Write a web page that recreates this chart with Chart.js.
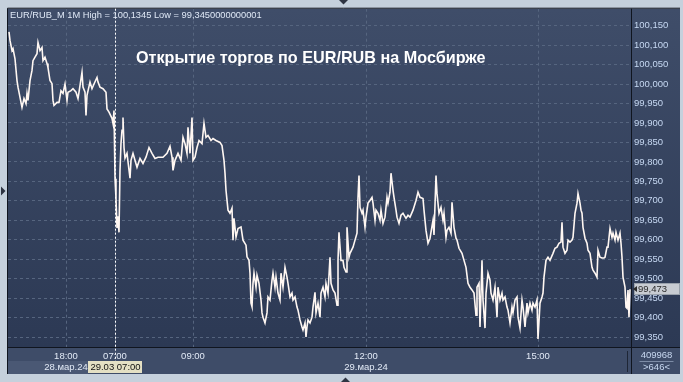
<!DOCTYPE html>
<html><head><meta charset="utf-8">
<style>html,body{margin:0;padding:0;background:#c5d0dc;}canvas{display:block}</style>
<script src="https://cdn.jsdelivr.net/npm/chart.js@4.4.1/dist/chart.umd.min.js"></script>
</head><body>
<canvas id="c" width="683" height="382"></canvas>
<script>
// ---- data (bar number in the visible window, close price) ----
const barIndex = [1,2,4,5,7,9,10,13,14,16,18,19,20,22,24,25,27,29,30,32,34,35,37,39,40,42,44,45,46,49,51,53,55,57,59,60,63,65,68,70,71,74,75,77,78,79,82,84,86,89,90,92,95,98,99,101,104,105,106,
107,108,109,110,111,112,113,114,115,116,117,119,122,123,125,129,132,135,138,141,144,147,150,155,159,162,164,165,167,170,173,175,177,179,180,182,184,185,187,189,191,194,196,198,200,203,205,208,212,214,216,217,218,220,222,224,225,226,228,230,233,235,238,239,241,242,243,244,245,246,248,249,251,253,254,255,257,259,260,262,264,265,267,268,270,272,273,275,277,279,280,282,284,285,287,289,290,292,294,295,297,298,299,300,302,304,305,307,308,310,312,313,315,317,318,320,322,323,325,327,329,330,331,333,335,336,338,339,341,342,345,347,349,350,351,352,354,355,357,358,360,362,364,365,367,368,370,372,373,375,377,379,380,382,383,385,386,388,389,391,393,395,398,400,402,405,408,410,412,415,416,418,420,422,425,426,428,429,431,433,435,436,438,439,441,443,444,446,448,449,451,454,456,458,460,462,464,466,468,469,471,472,474,475,477,478,480,482,483,485,487,489,490,492,494,495,497,499,500,502,504,505,507,509,510,512,514,515,517,519,520,522,524,525,527,529,530,532,534,535,536,538,540,542,545,547,549,551,553,554,555,557,559,560,562,564,565,567,569,570,572,573,574,575,577,579,580,582,584,585,587,589,590,592,594,596,597,599,600,602,604,605,607,608,610,612,613,614,615,617,618,619,620,621,622];
const closePrice = [100.134,100.112,100.086,100.091,100.065,100.009,99.992,99.953,99.940,99.963,99.950,99.976,99.958,100.009,100.035,100.060,100.069,100.078,100.107,100.086,100.094,100.060,100.069,100.053,100.042,100.009,100.001,99.958,99.945,99.953,99.953,99.983,99.976,100.000,99.958,99.979,99.983,99.988,99.979,99.963,99.979,100.030,99.992,99.979,99.919,99.971,100.005,99.988,100.000,100.017,100.005,99.992,99.988,99.979,99.936,99.928,99.912,99.899,99.932,
99.757,99.706,99.630,99.660,99.619,99.778,99.848,99.881,99.914,99.837,99.810,99.822,99.758,99.804,99.822,99.786,99.809,99.796,99.812,99.837,99.822,99.809,99.812,99.812,99.822,99.840,99.812,99.778,99.804,99.822,99.804,99.863,99.847,99.822,99.889,99.822,99.914,99.804,99.812,99.837,99.855,99.847,99.899,99.863,99.868,99.855,99.860,99.855,99.850,99.842,99.804,99.771,99.727,99.676,99.668,99.681,99.599,99.655,99.607,99.629,99.633,99.599,99.586,99.556,99.547,99.514,99.437,99.428,99.488,99.514,99.478,99.509,99.488,99.445,99.412,99.401,99.386,99.412,99.453,99.445,99.496,99.514,99.478,99.504,99.463,99.445,99.514,99.478,99.529,99.504,99.488,99.453,99.463,99.445,99.453,99.427,99.419,99.394,99.376,99.368,99.386,99.350,99.376,99.394,99.386,99.401,99.427,99.465,99.412,99.437,99.401,99.463,99.478,99.453,99.488,99.463,99.555,99.488,99.471,99.463,99.432,99.547,99.619,99.547,99.547,99.529,99.517,99.632,99.555,99.565,99.581,99.599,99.617,99.709,99.765,99.683,99.668,99.676,99.632,99.658,99.694,99.701,99.709,99.694,99.650,99.676,99.668,99.650,99.676,99.642,99.658,99.709,99.694,99.722,99.771,99.727,99.709,99.676,99.658,99.642,99.663,99.668,99.655,99.663,99.658,99.676,99.701,99.722,99.709,99.706,99.676,99.624,99.591,99.604,99.650,99.612,99.765,99.719,99.668,99.683,99.650,99.668,99.606,99.624,99.632,99.617,99.696,99.632,99.604,99.599,99.578,99.565,99.547,99.529,99.488,99.478,99.471,99.463,99.406,99.478,99.488,99.376,99.547,99.445,99.373,99.463,99.514,99.496,99.463,99.445,99.478,99.401,99.478,99.445,99.463,99.445,99.453,99.427,99.419,99.386,99.427,99.412,99.445,99.453,99.401,99.373,99.445,99.427,99.376,99.437,99.412,99.437,99.419,99.437,99.427,99.445,99.345,99.437,99.453,99.463,99.504,99.547,99.555,99.547,99.565,99.578,99.581,99.591,99.594,99.645,99.581,99.565,99.573,99.599,99.594,99.599,99.606,99.668,99.694,99.719,99.694,99.676,99.668,99.632,99.604,99.591,99.573,99.565,99.529,99.522,99.514,99.504,99.573,99.555,99.553,99.553,99.555,99.581,99.581,99.629,99.606,99.617,99.599,99.619,99.599,99.617,99.591,99.555,99.504,99.478,99.427,99.424,99.471,99.401,99.473];
const timeTickIndex = [58,107,185,358,530];
const timeTickLabels = ["18:00","07:00","09:00","12:00","15:00"];
const dateTickLabels = ["28.мар.24","","","29.мар.24",""];
const priceTicks = [99.35,99.40,99.45,99.50,99.55,99.60,99.65,99.70,99.75,99.80,99.85,99.90,99.95,100.00,100.05,100.10,100.15];
const priceMin = 99.3244, priceMax = 100.1936;
const barMax = 623;
const lastPrice = 99.473;
const cursorIndex = 107;
const cursorLabel = "29.03 07:00";
const infoText = "EUR/RUB_M 1M High = 100,1345 Low = 99,3450000000001";
const titleText = "Открытие торгов по EUR/RUB на Мосбирже";
const barCountText = "409968";
const visibleText = ">646<";

const FONT = "'Liberation Sans', Arial, sans-serif";
const fmtPrice = v => v.toFixed(3).replace('.', ',');

const decor = {
  id: 'decor',
  beforeDraw(chart) {
    const {ctx, chartArea: a} = chart;
    const ys = chart.scales.y, xs = chart.scales.x;
    const R = ys.right, B = xs.bottom;
    ctx.save();
    ctx.fillStyle = '#c5d0dc';
    ctx.fillRect(0, 0, chart.width, chart.height);
    const g = ctx.createLinearGradient(0, a.top, 0, a.bottom);
    g.addColorStop(0, '#3f4d69');
    g.addColorStop(1, '#2c3954');
    ctx.fillStyle = g;
    ctx.fillRect(a.left, a.top, R - a.left, a.bottom - a.top);
    ctx.fillStyle = '#3e4c68';
    ctx.fillRect(a.left, a.bottom, R - a.left, B - a.bottom);
    const cx = xs.getPixelForValue(cursorIndex);
    ctx.fillStyle = '#4a5874';
    ctx.fillRect(a.left, a.bottom + 14, cx - 27 - a.left, B - a.bottom - 14);
    ctx.restore();
  },
  afterDraw(chart) {
    const {ctx, chartArea: a} = chart;
    const ys = chart.scales.y, xs = chart.scales.x;
    const R = ys.right, B = xs.bottom;
    ctx.save();
    // borders
    ctx.strokeStyle = '#10151f';
    ctx.lineWidth = 1;
    ctx.beginPath();
    ctx.moveTo(a.left - 0.5, a.top - 0.5); ctx.lineTo(R, a.top - 0.5);
    ctx.moveTo(a.left - 0.5, a.top - 0.5); ctx.lineTo(a.left - 0.5, B);
    ctx.moveTo(a.right + 0.5, a.top); ctx.lineTo(a.right + 0.5, B);
    ctx.moveTo(a.left, a.bottom + 0.5); ctx.lineTo(R, a.bottom + 0.5);
    ctx.stroke();
    ctx.strokeStyle = '#1e2636';
    ctx.beginPath();
    ctx.moveTo(a.right - 3.5, a.bottom + 4); ctx.lineTo(a.right - 3.5, B - 2);
    ctx.stroke();

    // cursor (session open) dotted line
    const cx = Math.round(xs.getPixelForValue(cursorIndex)) + 0.5;
    ctx.strokeStyle = '#ffffff';
    ctx.setLineDash([2, 2]);
    ctx.beginPath();
    ctx.moveTo(cx, a.top); ctx.lineTo(cx, a.bottom + 14);
    ctx.stroke();
    ctx.setLineDash([]);
    ctx.font = '9.5px ' + FONT;
    const tw = ctx.measureText(cursorLabel).width;
    ctx.fillStyle = '#e4e0c4';
    ctx.fillRect(Math.round(cx - tw / 2 - 2), a.bottom + 14, Math.round(tw + 4), 12);
    ctx.fillStyle = '#111';
    ctx.textAlign = 'center'; ctx.textBaseline = 'middle';
    ctx.fillText(cursorLabel, cx, a.bottom + 20.5);

    // last price box
    const py = Math.round(ys.getPixelForValue(lastPrice));
    ctx.fillStyle = '#c8ccd2';
    ctx.fillRect(a.right + 3, py - 6, R - a.right - 3, 12);
    ctx.strokeStyle = '#9aa2ac';
    ctx.strokeRect(a.right + 3.5, py - 5.5, R - a.right - 4, 11);
    ctx.fillStyle = '#2a2a2a';
    ctx.beginPath();
    ctx.moveTo(a.right + 2, py); ctx.lineTo(a.right + 6, py - 3); ctx.lineTo(a.right + 6, py + 3); ctx.closePath();
    ctx.fill();
    ctx.font = '9.5px ' + FONT;
    ctx.textAlign = 'left'; ctx.textBaseline = 'middle';
    ctx.fillText(fmtPrice(lastPrice), a.right + 7, py + 0.5);

    // info text & title
    ctx.fillStyle = '#dfe8f6';
    ctx.font = '9.3px ' + FONT;
    ctx.textAlign = 'left'; ctx.textBaseline = 'middle';
    ctx.fillText(infoText, a.left + 2, a.top + 7);
    ctx.fillStyle = '#ffffff';
    ctx.font = 'bold 16.2px ' + FONT;
    ctx.textBaseline = 'alphabetic';
    ctx.fillText(titleText, 136, 63);

    // bottom-right counters
    const mx = (a.right + R) / 2 + 1;
    ctx.fillStyle = '#c8d8f0';
    ctx.font = '9.5px ' + FONT;
    ctx.textAlign = 'center'; ctx.textBaseline = 'middle';
    ctx.fillText(barCountText, mx, a.bottom + 8);
    ctx.strokeStyle = '#7d8ca6';
    ctx.beginPath(); ctx.moveTo(mx - 17, a.bottom + 14.5); ctx.lineTo(mx + 17, a.bottom + 14.5); ctx.stroke();
    ctx.fillText(visibleText, mx, a.bottom + 20.5);

    // frame markers
    ctx.fillStyle = '#2e3442';
    ctx.beginPath(); ctx.moveTo(339, 0); ctx.lineTo(348, 0); ctx.lineTo(343.5, 4.5); ctx.closePath(); ctx.fill();
    ctx.beginPath(); ctx.moveTo(341, 382); ctx.lineTo(350, 382); ctx.lineTo(345.5, 377.5); ctx.closePath(); ctx.fill();
    ctx.beginPath(); ctx.moveTo(1, 186.5); ctx.lineTo(1, 195.5); ctx.lineTo(5.5, 191); ctx.closePath(); ctx.fill();
    ctx.restore();
  }
};

new Chart(document.getElementById('c'), {
  type: 'line',
  data: {
    datasets: [{
      data: barIndex.map((b, k) => ({x: b, y: closePrice[k]})),
      borderColor: '#fff7f2',
      borderWidth: 1.6,
      pointRadius: 0,
      tension: 0,
      fill: false
    }]
  },
  options: {
    responsive: false,
    animation: false,
    devicePixelRatio: 1,
    layout: {padding: {left: 8, top: 8, right: 3, bottom: 8}},
    plugins: {legend: {display: false}, tooltip: {enabled: false}},
    scales: {
      x: {
        type: 'linear', min: 0, max: barMax,
        afterFit: s => { s.height = 27; },
        afterBuildTicks: s => { s.ticks = timeTickIndex.map(v => ({value: v})); },
        grid: {color: '#56657f', drawTicks: false, lineWidth: 1},
        border: {display: false, dash: [3, 3]},
        ticks: {
          autoSkip: false, maxRotation: 0, padding: 3,
          color: '#e2eaf6',
          font: {family: FONT, size: 9.5, lineHeight: 1.25},
          callback: (v, i) => [timeTickLabels[i], dateTickLabels[i]]
        }
      },
      y: {
        position: 'right', min: priceMin, max: priceMax,
        afterFit: s => { s.width = 49; },
        afterBuildTicks: s => { s.ticks = priceTicks.map(v => ({value: v})); },
        grid: {color: '#56657f', drawTicks: false, lineWidth: 1},
        border: {display: false, dash: [3, 3]},
        ticks: {
          padding: 3, color: '#c6d8f2',
          font: {family: FONT, size: 9.5},
          callback: v => fmtPrice(v)
        }
      }
    }
  },
  plugins: [decor]
});
</script>
</body></html>
